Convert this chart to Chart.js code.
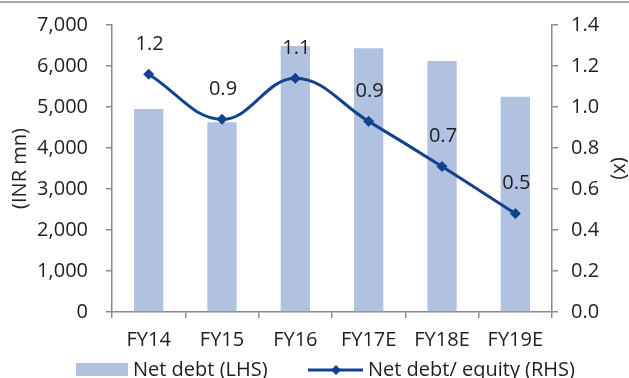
<!DOCTYPE html>
<html>
<head>
<meta charset="utf-8">
<script src="https://cdn.jsdelivr.net/npm/chart.js@4/dist/chart.umd.min.js"></script>
<style>
  html, body { margin: 0; padding: 0; background: #fff; }
  #wrap { width: 629px; height: 378px; position: relative; overflow: hidden; }
</style>
</head>
<body>
<div id="wrap"><canvas id="chart" width="629" height="378"></canvas></div>
<script>
// Net debt and leverage, FY14 to FY19E
const categories = ['FY14', 'FY15', 'FY16', 'FY17E', 'FY18E', 'FY19E'];
const netDebt = [4950, 4630, 6490, 6430, 6120, 5250];           // INR mn (LHS)
const netDebtToEquity = [1.16, 0.94, 1.14, 0.93, 0.71, 0.48];   // x (RHS)
const leftTickValues = [0, 1000, 2000, 3000, 4000, 5000, 6000, 7000];
const rightTickValues = [0, 0.2, 0.4, 0.6, 0.8, 1.0, 1.2, 1.4];
const seriesNames = ['Net debt (LHS)', 'Net debt/ equity (RHS)'];
const axisTitles = ['(INR mn)', '(x)'];

const BAR_COLOR = '#B1C2E0';
const LINE_COLOR = '#12428F';
const AXIS_COLOR = '#8A8A8A';
const TEXT_COLOR = '#1E1E1E';
const FONT_FAMILY = '"Open Sans", "Noto Sans", sans-serif';
const FONT = { family: FONT_FAMILY, size: 20 };

function fixedTicks(values) {
  return (scale) => { scale.ticks = values.map(v => ({ value: v })); };
}

// keep the vertical axes from pushing the plot area down
function fitVertical(width) {
  return (s) => { s.width = width; s.paddingTop = 12; s.paddingBottom = 12; };
}

function diamond(ctx, x, y, r) {
  ctx.beginPath();
  ctx.moveTo(x, y - r);
  ctx.lineTo(x + r, y);
  ctx.lineTo(x, y + r);
  ctx.lineTo(x - r, y);
  ctx.closePath();
  ctx.fill();
}

const decorations = {
  id: 'decorations',
  beforeDraw(chart) {
    const ctx = chart.ctx;
    ctx.save();
    ctx.fillStyle = '#A6A6A6';
    ctx.fillRect(0, 1, chart.width, 2);
    ctx.restore();
  },
  afterDraw(chart) {
    const ctx = chart.ctx;
    const area = chart.chartArea;
    ctx.save();
    ctx.font = `${FONT.size}px ${FONT_FAMILY}`;
    ctx.fillStyle = TEXT_COLOR;
    ctx.textAlign = 'center';
    ctx.textBaseline = 'middle';

    // value labels above the ratio line
    const meta = chart.getDatasetMeta(1);
    meta.data.forEach((pt, i) => {
      ctx.fillText(netDebtToEquity[i].toFixed(1), pt.x + 1, pt.y - 30);
    });

    // axis titles
    const midY = (area.top + area.bottom) / 2;
    ctx.save();
    ctx.translate(20, midY);
    ctx.rotate(-Math.PI / 2);
    ctx.fillText(axisTitles[0], 0, 0);
    ctx.restore();
    ctx.save();
    ctx.translate(620, midY);
    ctx.rotate(Math.PI / 2);
    ctx.fillText(axisTitles[1], 0, 0);
    ctx.restore();

    // legend
    const ly = 370;
    ctx.textAlign = 'left';
    ctx.fillStyle = BAR_COLOR;
    ctx.fillRect(76, 363, 52, 13);
    ctx.fillStyle = TEXT_COLOR;
    ctx.fillText(seriesNames[0], 133, ly);

    ctx.strokeStyle = LINE_COLOR;
    ctx.lineWidth = 3;
    ctx.beginPath();
    ctx.moveTo(308, ly);
    ctx.lineTo(363, ly);
    ctx.stroke();
    ctx.fillStyle = LINE_COLOR;
    diamond(ctx, 336, ly, 5);
    ctx.fillStyle = TEXT_COLOR;
    ctx.fillText(seriesNames[1], 368, ly);
    ctx.restore();
  }
};

new Chart(document.getElementById('chart'), {
  data: {
    labels: categories,
    datasets: [
      {
        type: 'bar',
        label: seriesNames[0],
        data: netDebt,
        yAxisID: 'y',
        backgroundColor: BAR_COLOR,
        barPercentage: 0.4,
        categoryPercentage: 1.0,
        order: 2
      },
      {
        type: 'line',
        label: seriesNames[1],
        data: netDebtToEquity,
        yAxisID: 'y1',
        borderColor: LINE_COLOR,
        borderWidth: 3,
        tension: 0.4,
        pointStyle: 'rectRot',
        pointRadius: 5,
        pointBackgroundColor: LINE_COLOR,
        pointBorderColor: LINE_COLOR,
        pointBorderWidth: 1,
        order: 1
      }
    ]
  },
  options: {
    responsive: false,
    animation: false,
    devicePixelRatio: 1,
    layout: { padding: { top: 25, left: 0, right: 0, bottom: 0 } },
    plugins: { legend: { display: false }, tooltip: { enabled: false } },
    scales: {
      x: {
        position: 'bottom',
        offset: true,
        grid: { display: true, drawOnChartArea: false, offset: true, tickLength: 6, color: AXIS_COLOR, lineWidth: 1.5 },
        border: { color: AXIS_COLOR, width: 1.5 },
        ticks: { font: FONT, color: TEXT_COLOR, padding: 10, maxRotation: 0 },
        afterFit(s) { s.height = 66; }
      },
      y: {
        position: 'left',
        min: 0, max: 7000,
        afterBuildTicks: fixedTicks(leftTickValues),
        grid: { display: true, drawOnChartArea: false, tickLength: 6, color: AXIS_COLOR, lineWidth: 1.5 },
        border: { color: AXIS_COLOR, width: 1.5 },
        ticks: { font: FONT, color: TEXT_COLOR, padding: 18, callback: v => v.toLocaleString('en-US') },
        afterFit: fitVertical(112)
      },
      y1: {
        position: 'right',
        min: 0, max: 1.4,
        afterBuildTicks: fixedTicks(rightTickValues),
        grid: { display: true, drawOnChartArea: false, tickLength: 6, color: AXIS_COLOR, lineWidth: 1.5 },
        border: { color: AXIS_COLOR, width: 1.5 },
        ticks: { font: FONT, color: TEXT_COLOR, padding: 13, callback: v => Number(v).toFixed(1) },
        afterFit: fitVertical(77)
      }
    }
  },
  plugins: [decorations]
});
</script>
</body>
</html>
